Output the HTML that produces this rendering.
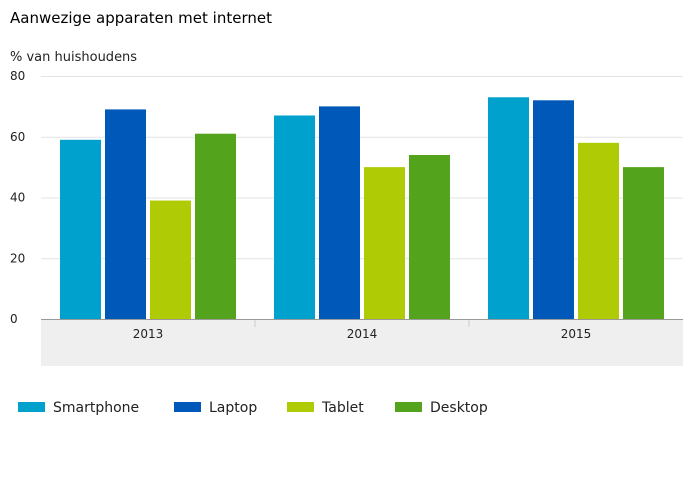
<!DOCTYPE html>
<html><head><meta charset="utf-8"><style>
body{margin:0;background:#fff;font-family:"DejaVu Sans","Liberation Sans",sans-serif;}
</style></head><body>
<svg width="693" height="500" xmlns="http://www.w3.org/2000/svg" style="font-family:'DejaVu Sans','Liberation Sans',sans-serif">
<text x="10" y="23" font-size="15" fill="#000">Aanwezige apparaten met internet</text>
<text x="10" y="61" font-size="13" fill="#222">% van huishoudens</text>
<g id="grid"></g>
<rect x="41" y="320" width="642" height="46" fill="#efefef"/>
<g id="bars"></g>
<g id="cats"></g>
<g id="legend"></g>
</svg>
<script>
const categories=["2013","2014","2015"];
const seriesNames=["Smartphone","Laptop","Tablet","Desktop"];
const smartphone=[59,67,73];
const laptop=[69,70,72];
const tablet=[39,50,58];
const desktop=[61,54,50];
const yTicks=[0,20,40,60,80];
const colors=["#00a1cd","#0058b8","#afcb05","#53a31d"];
const series=[smartphone,laptop,tablet,desktop];
const NS="http://www.w3.org/2000/svg";
const x0=41,x1=683,yBase=319,yTop=76,yMax=80;
const y=v=>yBase-(v/yMax)*(yBase-yTop);
const gw=(x1-x0)/categories.length;
function mk(t,a,p){const e=document.createElementNS(NS,t);for(const k in a)e.setAttribute(k,a[k]);p.appendChild(e);return e;}
const grid=document.getElementById('grid');
yTicks.forEach(t=>{
  const l=mk('line',{x1:x0,x2:x1,y1:y(t)+0.5,y2:y(t)+0.5,stroke:t===0?'#999':'#e3e3e3'},grid);
  
  
  const tx=mk('text',{x:10,y:y(t)+4,'font-size':12,fill:'#222'},grid);tx.textContent=t;
  
  
});
const bars=document.getElementById('bars');
categories.forEach((c,i)=>{
  series.forEach((s,j)=>{
    const r=mk('rect',{x:x0+i*gw+19+j*45,y:y(s[i]),width:41,height:yBase-y(s[i]),fill:colors[j]},bars);
    
    
  });
});
const cats=document.getElementById('cats');
categories.forEach((c,i)=>{
  const t=mk('text',{x:x0+i*gw+gw/2,y:338,'font-size':12,fill:'#222','text-anchor':'middle'},cats);t.textContent=c;
  
  
  if(i>0){const l=mk('line',{x1:x0+i*gw,x2:x0+i*gw,y1:320,y2:327,stroke:'#ccc'},cats);
    
    }
});
const lg=document.getElementById('legend');
const lx=[18,174,287,395];
seriesNames.forEach((n,j)=>{
  const r=mk('rect',{x:lx[j],y:402,width:27,height:10,fill:colors[j]},lg);
  
  
  const t=mk('text',{x:lx[j]+35,y:412,'font-size':14,fill:'#222'},lg);t.textContent=n;
  
  
});
</script>
</body></html>
